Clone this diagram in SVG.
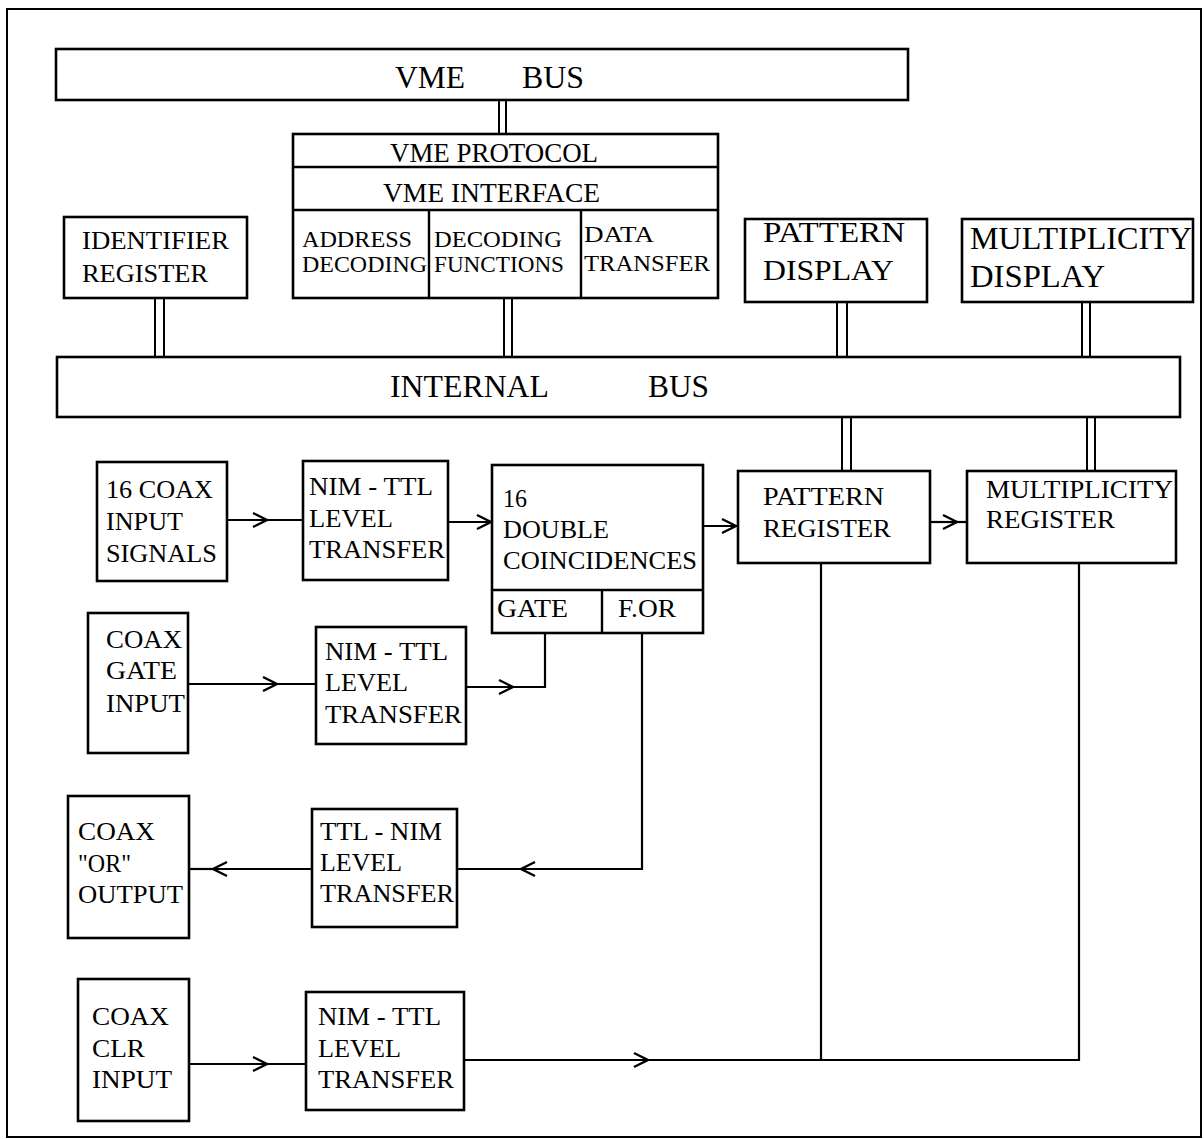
<svg xmlns="http://www.w3.org/2000/svg" width="1204" height="1139" viewBox="0 0 1204 1139">
<style>
  .box { fill: #fff; stroke: #000; stroke-width: 2.6; }
  .div { fill: none; stroke: #000; stroke-width: 2.4; }
  .ln { fill: none; stroke: #000; stroke-width: 2.2; }
  .bl { fill: none; stroke: #000; stroke-width: 2; }
  text { font-family: "Liberation Serif", "Times New Roman", serif; fill: #000; }
  .t26 { font-size: 26px; }
  .t24 { font-size: 24px; }
  .t28 { font-size: 28px; }
  .t30 { font-size: 30px; }
  .t32 { font-size: 32px; }
</style>
<defs>
  <marker id="chev" markerUnits="userSpaceOnUse" markerWidth="24" markerHeight="20" refX="20" refY="10" orient="auto" overflow="visible">
    <path d="M6,3 L20,10 L6,17" fill="none" stroke="#000" stroke-width="2.4"/>
  </marker>
</defs>
<rect id="frame" x="7" y="9" width="1194" height="1128" fill="none" stroke="#000" stroke-width="2"/>

<g id="connectors">
  <!-- bus double lines -->
  <path class="bl" d="M499,100 V134 M506,100 V134"/>
  <path class="bl" d="M504,298 V357 M512,298 V357"/>
  <path class="bl" d="M155,298 V357 M164,298 V357"/>
  <path class="bl" d="M837,302 V357 M847,302 V357"/>
  <path class="bl" d="M1082,302 V357 M1090,302 V357"/>
  <path class="bl" d="M842,417 V471 M851,417 V471"/>
  <path class="bl" d="M1087,417 V471 M1095,417 V471"/>
  <!-- signal lines -->
  <path class="ln" d="M227,520 H267" marker-end="url(#chev)"/>
  <path class="ln" d="M267,520 H303"/>
  <path class="ln" d="M448,522 H491" marker-end="url(#chev)"/>
  <path class="ln" d="M703,526 H736" marker-end="url(#chev)"/>
  <path class="ln" d="M930,522 H957" marker-end="url(#chev)"/>
  <path class="ln" d="M957,522 H967"/>
  <path class="ln" d="M188,684 H277" marker-end="url(#chev)"/>
  <path class="ln" d="M277,684 H316"/>
  <path class="ln" d="M466,687 H513" marker-end="url(#chev)"/>
  <path class="ln" d="M513,687 H545 V633"/>
  <path class="ln" d="M642,633 V869 H521" marker-end="url(#chev)"/>
  <path class="ln" d="M521,869 H457"/>
  <path class="ln" d="M312,869 H213" marker-end="url(#chev)"/>
  <path class="ln" d="M213,869 H189"/>
  <path class="ln" d="M189,1064 H267" marker-end="url(#chev)"/>
  <path class="ln" d="M267,1064 H306"/>
  <path class="ln" d="M464,1060 H648" marker-end="url(#chev)"/>
  <path class="ln" d="M648,1060 H1079 V563"/>
  <path class="ln" d="M821,563 V1060"/>
</g>

<g id="vme-bus">
  <rect class="box" x="56" y="49" width="852" height="51"/>
  <text class="t32" y="88"><tspan x="395" textLength="70" lengthAdjust="spacingAndGlyphs">VME</tspan><tspan x="522" textLength="62" lengthAdjust="spacingAndGlyphs">BUS</tspan></text>
</g>

<g id="vme-block">
  <rect class="box" x="293" y="134" width="425" height="164"/>
  <path class="div" d="M293,167 H718 M293,210 H718 M429,210 V298 M581,210 V298"/>
  <text class="t28" x="390" y="162" textLength="208" lengthAdjust="spacingAndGlyphs">VME PROTOCOL</text>
  <text class="t28" x="383" y="202" textLength="217" lengthAdjust="spacingAndGlyphs">VME INTERFACE</text>
  <text class="t24"><tspan x="302" y="247" textLength="110" lengthAdjust="spacingAndGlyphs">ADDRESS</tspan><tspan x="302" y="272" textLength="125" lengthAdjust="spacingAndGlyphs">DECODING</tspan></text>
  <text class="t24"><tspan x="434" y="247" textLength="128" lengthAdjust="spacingAndGlyphs">DECODING</tspan><tspan x="434" y="272" textLength="130" lengthAdjust="spacingAndGlyphs">FUNCTIONS</tspan></text>
  <text class="t24"><tspan x="584" y="242" textLength="70" lengthAdjust="spacingAndGlyphs">DATA</tspan><tspan x="584" y="271" textLength="126" lengthAdjust="spacingAndGlyphs">TRANSFER</tspan></text>
</g>

<g id="identifier-register">
  <rect class="box" x="64" y="217" width="183" height="81"/>
  <text class="t26"><tspan x="82" y="249" textLength="147" lengthAdjust="spacingAndGlyphs">IDENTIFIER</tspan><tspan x="82" y="282" textLength="126" lengthAdjust="spacingAndGlyphs">REGISTER</tspan></text>
</g>

<g id="pattern-display">
  <rect class="box" x="745" y="219" width="182" height="83"/>
  <text class="t30"><tspan x="763" y="242" textLength="142" lengthAdjust="spacingAndGlyphs">PATTERN</tspan><tspan x="763" y="280" textLength="131" lengthAdjust="spacingAndGlyphs">DISPLAY</tspan></text>
</g>

<g id="multiplicity-display">
  <rect class="box" x="962" y="219" width="231" height="83"/>
  <text class="t32"><tspan x="970" y="249" textLength="222" lengthAdjust="spacingAndGlyphs">MULTIPLICITY</tspan><tspan x="970" y="287" textLength="135" lengthAdjust="spacingAndGlyphs">DISPLAY</tspan></text>
</g>

<g id="internal-bus">
  <rect class="box" x="57" y="357" width="1123" height="60"/>
  <text class="t32" y="397"><tspan x="390" textLength="159" lengthAdjust="spacingAndGlyphs">INTERNAL</tspan><tspan x="648" textLength="61" lengthAdjust="spacingAndGlyphs">BUS</tspan></text>
</g>

<g id="coax-input-signals">
  <rect class="box" x="97" y="462" width="130" height="119"/>
  <text class="t26"><tspan x="106" y="498" textLength="107" lengthAdjust="spacingAndGlyphs">16 COAX</tspan><tspan x="106" y="530" textLength="77" lengthAdjust="spacingAndGlyphs">INPUT</tspan><tspan x="106" y="562" textLength="111" lengthAdjust="spacingAndGlyphs">SIGNALS</tspan></text>
</g>

<g id="nim-ttl-1">
  <rect class="box" x="303" y="461" width="145" height="119"/>
  <text class="t26"><tspan x="309" y="495" textLength="124" lengthAdjust="spacingAndGlyphs">NIM - TTL</tspan><tspan x="309" y="527" textLength="84" lengthAdjust="spacingAndGlyphs">LEVEL</tspan><tspan x="309" y="558" textLength="136" lengthAdjust="spacingAndGlyphs">TRANSFER</tspan></text>
</g>

<g id="double-coincidences">
  <rect class="box" x="492" y="465" width="211" height="168"/>
  <path class="div" d="M492,590 H703 M602,590 V633"/>
  <text class="t26"><tspan x="503" y="507" textLength="24" lengthAdjust="spacingAndGlyphs">16</tspan><tspan x="503" y="538" textLength="106" lengthAdjust="spacingAndGlyphs">DOUBLE</tspan><tspan x="503" y="569" textLength="194" lengthAdjust="spacingAndGlyphs">COINCIDENCES</tspan></text>
  <text class="t26" x="497" y="617" textLength="71" lengthAdjust="spacingAndGlyphs">GATE</text>
  <text class="t26" x="618" y="617" textLength="58" lengthAdjust="spacingAndGlyphs">F.OR</text>
</g>

<g id="pattern-register">
  <rect class="box" x="738" y="471" width="192" height="92"/>
  <text class="t26"><tspan x="763" y="505" textLength="121" lengthAdjust="spacingAndGlyphs">PATTERN</tspan><tspan x="763" y="537" textLength="128" lengthAdjust="spacingAndGlyphs">REGISTER</tspan></text>
</g>

<g id="multiplicity-register">
  <rect class="box" x="967" y="471" width="209" height="92"/>
  <text class="t26"><tspan x="986" y="498" textLength="187" lengthAdjust="spacingAndGlyphs">MULTIPLICITY</tspan><tspan x="986" y="528" textLength="129" lengthAdjust="spacingAndGlyphs">REGISTER</tspan></text>
</g>

<g id="coax-gate-input">
  <rect class="box" x="88" y="613" width="100" height="140"/>
  <text class="t26"><tspan x="106" y="648" textLength="76" lengthAdjust="spacingAndGlyphs">COAX</tspan><tspan x="106" y="679" textLength="71" lengthAdjust="spacingAndGlyphs">GATE</tspan><tspan x="106" y="712" textLength="79" lengthAdjust="spacingAndGlyphs">INPUT</tspan></text>
</g>

<g id="nim-ttl-2">
  <rect class="box" x="316" y="627" width="150" height="117"/>
  <text class="t26"><tspan x="325" y="660" textLength="123" lengthAdjust="spacingAndGlyphs">NIM - TTL</tspan><tspan x="325" y="691" textLength="83" lengthAdjust="spacingAndGlyphs">LEVEL</tspan><tspan x="325" y="723" textLength="137" lengthAdjust="spacingAndGlyphs">TRANSFER</tspan></text>
</g>

<g id="coax-or-output">
  <rect class="box" x="68" y="796" width="121" height="142"/>
  <text class="t26"><tspan x="78" y="840" textLength="77" lengthAdjust="spacingAndGlyphs">COAX</tspan><tspan x="78" y="872" textLength="53" lengthAdjust="spacingAndGlyphs">"OR"</tspan><tspan x="78" y="903" textLength="105" lengthAdjust="spacingAndGlyphs">OUTPUT</tspan></text>
</g>

<g id="ttl-nim">
  <rect class="box" x="312" y="809" width="145" height="118"/>
  <text class="t26"><tspan x="320" y="840" textLength="122" lengthAdjust="spacingAndGlyphs">TTL - NIM</tspan><tspan x="320" y="871" textLength="82" lengthAdjust="spacingAndGlyphs">LEVEL</tspan><tspan x="320" y="902" textLength="134" lengthAdjust="spacingAndGlyphs">TRANSFER</tspan></text>
</g>

<g id="coax-clr-input">
  <rect class="box" x="78" y="979" width="111" height="142"/>
  <text class="t26"><tspan x="92" y="1025" textLength="77" lengthAdjust="spacingAndGlyphs">COAX</tspan><tspan x="92" y="1057" textLength="53" lengthAdjust="spacingAndGlyphs">CLR</tspan><tspan x="92" y="1088" textLength="80" lengthAdjust="spacingAndGlyphs">INPUT</tspan></text>
</g>

<g id="nim-ttl-3">
  <rect class="box" x="306" y="992" width="158" height="118"/>
  <text class="t26"><tspan x="318" y="1025" textLength="123" lengthAdjust="spacingAndGlyphs">NIM - TTL</tspan><tspan x="318" y="1057" textLength="83" lengthAdjust="spacingAndGlyphs">LEVEL</tspan><tspan x="318" y="1088" textLength="136" lengthAdjust="spacingAndGlyphs">TRANSFER</tspan></text>
</g>
</svg>
